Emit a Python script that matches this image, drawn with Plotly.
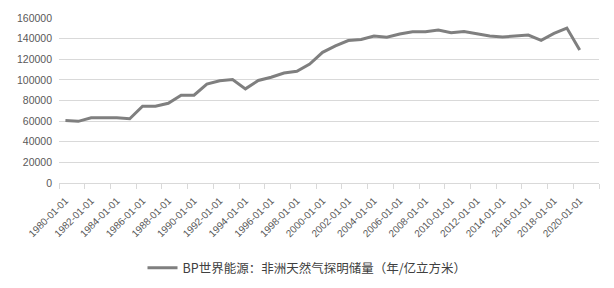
import plotly.graph_objects as go

years = list(range(1980, 2021))
values = [60500, 59800, 63300, 63300, 63200, 62300, 74400, 74400, 77300, 85200,
          85200, 96000, 99100, 100400, 91300, 99400, 102600, 106700, 108400, 115300,
          126700, 133000, 138100, 139100, 142600, 141300, 144400, 146600, 146600, 148300,
          145700, 147000, 145100, 142600, 141600, 142600, 143500, 138400, 145000, 150200,
          128900]
tick_years = list(range(1980, 2021, 2))
tick_text = [f"{y}-01-01" for y in tick_years]
series_name = "BP世界能源：非洲天然气探明储量（年/亿立方米）"

fig = go.Figure()
fig.add_trace(go.Scatter(x=years, y=values, mode="lines", name=series_name,
                         line=dict(color="#7f7f7f", width=3)))

font_num = "Liberation Sans, Arial, sans-serif"
fig.update_layout(
    width=614, height=288,
    margin=dict(l=59, r=15, t=15, b=105),
    paper_bgcolor="white", plot_bgcolor="white",
    showlegend=True,
    legend=dict(orientation="h", x=0.5, xanchor="center", xref="container",
                y=0.069, yanchor="middle", yref="container",
                font=dict(family="Noto Sans CJK SC, sans-serif", size=12.5, color="#404040")),
    xaxis=dict(range=[1979.5, 2021.5], tickmode="array", tickvals=tick_years,
               ticktext=tick_text, tickangle=-45, showgrid=False, ticks="",
               ticklabelstandoff=7,
               showline=True, linecolor="#d9d9d9", linewidth=1, zeroline=False,
               tickfont=dict(family=font_num, size=10, color="#595959"),
               minor=dict(tick0=1979.5, dtick=2, ticks="outside", ticklen=5,
                          tickcolor="#d9d9d9", showgrid=False)),
    yaxis=dict(range=[0, 160000], dtick=20000, showgrid=True, gridcolor="#d9d9d9",
               gridwidth=1, zeroline=False, ticks="", tickformat="d",
               ticklabelstandoff=6,
               tickfont=dict(family=font_num, size=10.5, color="#595959")),
)
fig.write_html("out.html")
